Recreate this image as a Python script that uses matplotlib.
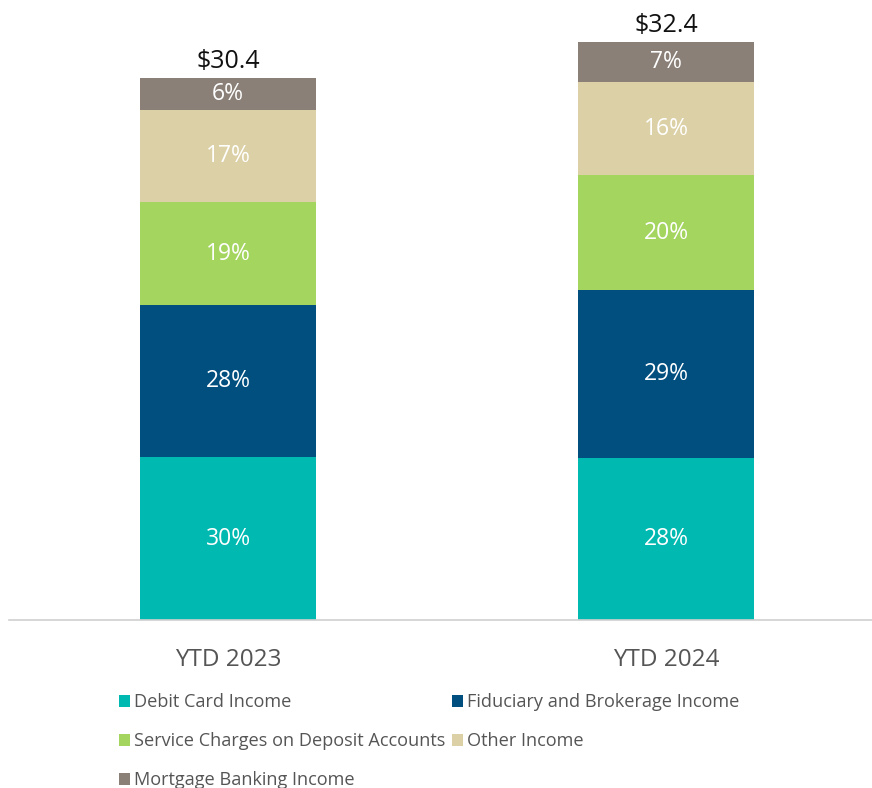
import matplotlib.pyplot as plt
import numpy as np

plt.rcParams['font.family'] = ['Open Sans', 'DejaVu Sans']

periods = ["YTD 2023", "YTD 2024"]
totals = [30.4, 32.4]
categories = ["Debit Card Income", "Fiduciary and Brokerage Income",
              "Service Charges on Deposit Accounts", "Other Income",
              "Mortgage Banking Income"]
shares = {
    "Debit Card Income": [30, 28],
    "Fiduciary and Brokerage Income": [28, 29],
    "Service Charges on Deposit Accounts": [19, 20],
    "Other Income": [17, 16],
    "Mortgage Banking Income": [6, 7],
}
colors = {
    "Debit Card Income": "#00B9B1",
    "Fiduciary and Brokerage Income": "#004F7F",
    "Service Charges on Deposit Accounts": "#A3D55F",
    "Other Income": "#DCD0A6",
    "Mortgage Banking Income": "#8B8078",
}

fig = plt.figure(figsize=(8.72, 7.88), dpi=100)
ax = fig.add_axes([0.0103, 0.2132, 0.9897, 0.7868])

x = np.arange(len(periods))
tot = np.array(totals)
bottom = np.zeros(len(periods))
handles = {}
for cat in categories:
    pct = np.array(shares[cat], dtype=float)
    h = tot * pct / 100
    bars = ax.bar(x, h, width=0.4, bottom=bottom, color=colors[cat], label=cat)
    handles[cat] = bars
    for xi, b, hi, p in zip(x, bottom, h, pct):
        ax.text(xi, b + hi / 2, f"{p:.0f}%", ha="center", va="center",
                color="white", fontsize=16.5)
    bottom += h

for xi, t in zip(x, totals):
    ax.text(xi, t + 0.2, f"${t:.1f}", ha="center", va="bottom",
            color="#111111", fontsize=18)

ax.set_xlim(-0.5, 1.47)
ax.set_ylim(0, 34.75)
ax.set_yticks([])
ax.set_xticks(x)
ax.set_xticklabels(periods, fontsize=17.5, color="#555555")
ax.tick_params(axis="x", length=0, pad=20)
for s in ["top", "right", "left"]:
    ax.spines[s].set_visible(False)
ax.spines["bottom"].set_color("#D0D0D0")
ax.spines["bottom"].set_linewidth(1.2)

order = ["Debit Card Income", "Service Charges on Deposit Accounts",
         "Mortgage Banking Income", "Fiduciary and Brokerage Income", "Other Income"]
leg = fig.legend([handles[c] for c in order], order, ncol=2,
                 loc="upper left", bbox_to_anchor=(0.136, 0.12),
                 frameon=False, fontsize=13.1, handlelength=0.6, handleheight=0.6,
                 handletextpad=0.25, columnspacing=0.35, labelspacing=1.15,
                 borderpad=0, borderaxespad=0)
for t in leg.get_texts():
    t.set_color("#555555")

fig.savefig("out.png", dpi=100)
